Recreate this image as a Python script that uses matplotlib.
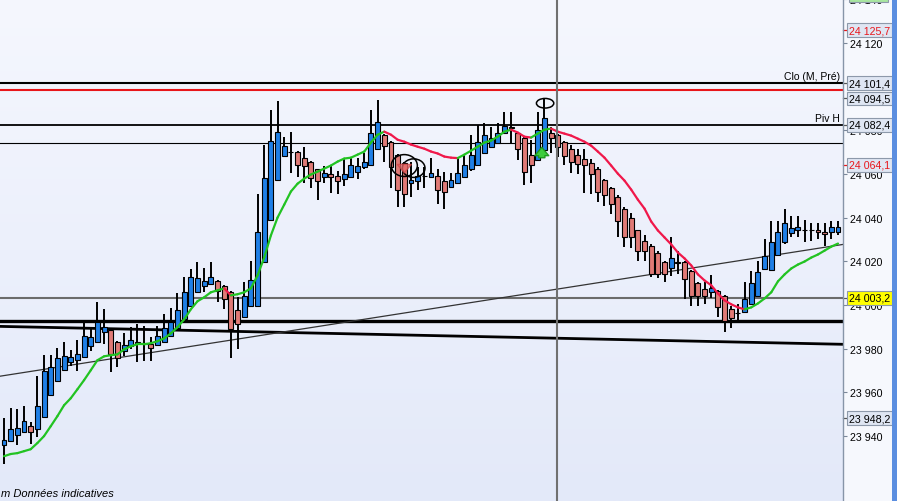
import numpy as np
import matplotlib
matplotlib.use('Agg')
import matplotlib.pyplot as plt
from matplotlib.collections import LineCollection
from matplotlib.patches import Ellipse, Rectangle

plt.rcParams['font.family'] = ['Liberation Sans', 'DejaVu Sans']

# --- candle data ---
opens = [
    23935.9, 23937.7, 23940.4, 23941.8, 23944.5, 23943.2, 23948.7, 23958.7, 23965.1, 23970.1,
    23973.8, 23974.7, 23976.1, 23981.1, 23982.9, 23987.5, 23988.4, 23982.9, 23978.8, 23981.1,
    23982.7, 23982.5, 23982.0, 23981.5, 23982.9, 23985.7, 23989.3, 23993.4, 23999.4, 24005.8,
    24008.5, 24009.4, 24010.8, 24008.5, 24005.8, 23997.5, 23994.3, 23999.4, 23999.4, 24019.5,
    24038.7, 24057.4, 24068.3, 24069.9, 24070.2, 24067.4, 24065.6, 24062.0, 24058.7, 24059.7,
    24059.2, 24057.8, 24058.7, 24061.0, 24062.9, 24064.2, 24071.5, 24077.9, 24074.7, 24068.8,
    24065.1, 24056.0, 24056.5, 24058.8, 24058.7, 24059.2, 24056.5, 24054.2, 24056.0, 24058.7,
    24062.0, 24064.2, 24069.7, 24072.4, 24074.3, 24078.9, 24081.6, 24078.9, 24076.6, 24068.8,
    24066.5, 24071.1, 24078.9, 24077.9, 24074.7, 24071.5, 24068.8, 24067.0, 24065.1, 24062.4,
    24057.4, 24053.7, 24049.6, 24044.1, 24040.0, 24034.1, 24029.1, 24027.2, 24024.0, 24019.5,
    24016.7, 24019.0, 24019.5, 24015.4, 24009.9, 24007.1, 24005.8, 24006.2, 24003.9, 23998.0,
    23996.2, 23996.6, 24000.3, 24003.9, 24016.3, 24015.8, 24022.7, 24028.6, 24032.7, 24034.1,
    24034.1, 24034.2, 24034.1, 24033.6, 24033.2, 24033.6]
closes = [
    23938.1, 23943.2, 23943.6, 23946.8, 23941.8, 23953.7, 23969.7, 23971.5, 23975.6, 23976.5,
    23976.1, 23977.4, 23985.7, 23985.2, 23992.0, 23989.8, 23977.4, 23975.6, 23981.5, 23983.8,
    23982.9, 23982.3, 23980.2, 23985.7, 23989.3, 23992.0, 23997.5, 24005.8, 24012.6, 24012.2,
    24010.8, 24012.6, 24006.2, 24002.6, 23988.9, 23991.1, 24003.9, 24011.2, 24033.2, 24058.3,
    24075.2, 24079.3, 24072.9, 24070.2, 24064.2, 24063.8, 24058.3, 24056.5, 24060.6, 24058.7,
    24056.5, 24059.7, 24064.2, 24063.8, 24065.6, 24078.9, 24083.9, 24072.9, 24062.9, 24052.8,
    24051.0, 24057.4, 24059.2, 24058.9, 24060.6, 24052.4, 24051.9, 24057.4, 24060.6, 24064.2,
    24068.8, 24074.7, 24077.9, 24076.6, 24078.9, 24082.0, 24081.1, 24071.5, 24061.0, 24064.2,
    24080.2, 24085.7, 24076.6, 24072.4, 24068.3, 24065.6, 24064.7, 24064.2, 24059.7, 24051.9,
    24050.1, 24046.4, 24038.2, 24030.9, 24031.3, 24024.5, 24024.5, 24014.0, 24014.0, 24014.0,
    24021.3, 24019.5, 24011.7, 24003.9, 24003.9, 24003.9, 24007.6, 23998.9, 23992.5, 23993.9,
    23996.4, 24002.6, 24009.9, 24014.9, 24022.2, 24028.6, 24033.6, 24037.3, 24035.0, 24035.5,
    24034.2, 24034.1, 24033.4, 24032.5, 24035.5, 24035.5]
highs = [
    23948.2, 23952.8, 23952.3, 23953.7, 23946.4, 23967.4, 23977.0, 23977.0, 23980.2, 23982.9,
    23979.3, 23983.8, 23991.6, 23988.9, 24001.2, 23998.0, 23988.9, 23983.4, 23987.0, 23989.8,
    23991.1, 23990.2, 23985.2, 23990.2, 23995.7, 23998.5, 24005.3, 24012.6, 24016.3, 24019.5,
    24016.7, 24019.5, 24011.2, 24009.0, 24006.2, 24003.5, 24010.3, 24019.9, 24051.0, 24073.4,
    24089.4, 24093.5, 24077.0, 24079.3, 24070.6, 24072.4, 24066.1, 24062.4, 24063.8, 24063.8,
    24061.5, 24067.4, 24067.4, 24067.4, 24069.7, 24089.4, 24093.9, 24078.4, 24075.2, 24069.3,
    24065.6, 24065.6, 24063.3, 24063.3, 24067.4, 24062.0, 24061.0, 24060.6, 24067.4, 24068.8,
    24077.9, 24082.5, 24083.4, 24081.6, 24083.4, 24088.4, 24088.4, 24079.3, 24077.0, 24075.6,
    24088.4, 24094.8, 24081.6, 24078.4, 24075.2, 24073.4, 24071.5, 24071.5, 24067.0, 24062.9,
    24057.8, 24054.2, 24050.1, 24044.6, 24042.3, 24034.5, 24031.8, 24027.7, 24024.5, 24019.9,
    24031.3, 24024.9, 24019.9, 24015.8, 24010.3, 24010.3, 24013.5, 24006.7, 24004.4, 23999.4,
    24000.3, 24010.3, 24015.4, 24019.9, 24030.0, 24038.2, 24038.2, 24043.7, 24040.9, 24040.5,
    24039.1, 24037.7, 24037.3, 24037.7, 24038.2, 24038.2]
lows = [
    23927.2, 23937.2, 23935.9, 23941.3, 23936.3, 23939.5, 23948.2, 23958.3, 23964.7, 23969.7,
    23972.0, 23969.7, 23975.6, 23978.8, 23982.5, 23982.0, 23969.2, 23971.5, 23976.5, 23979.7,
    23973.8, 23974.2, 23974.2, 23981.1, 23982.5, 23985.2, 23988.9, 23993.0, 23998.9, 24005.3,
    24005.8, 24009.0, 24001.2, 23998.0, 23975.6, 23979.7, 23993.9, 23998.9, 23998.9, 24019.0,
    24038.2, 24056.9, 24067.9, 24060.6, 24058.7, 24056.0, 24053.7, 24047.8, 24056.0, 24051.4,
    24051.0, 24054.6, 24058.3, 24057.8, 24062.0, 24063.8, 24071.1, 24065.6, 24053.7, 24045.0,
    24045.0, 24049.6, 24052.8, 24053.7, 24058.3, 24046.0, 24043.7, 24053.7, 24055.5, 24058.3,
    24061.5, 24063.8, 24069.3, 24072.0, 24073.8, 24078.4, 24074.3, 24066.5, 24055.1, 24056.0,
    24066.1, 24070.6, 24069.7, 24067.9, 24064.2, 24060.6, 24059.7, 24051.4, 24051.0, 24047.3,
    24045.5, 24041.4, 24031.3, 24026.3, 24025.9, 24019.9, 24019.9, 24012.6, 24012.2, 24010.3,
    24013.1, 24014.0, 24002.6, 23999.4, 23999.4, 24000.3, 24003.0, 23994.3, 23987.5, 23989.3,
    23991.6, 23996.2, 23999.8, 24003.5, 24015.8, 24015.4, 24022.2, 24028.1, 24030.9, 24030.9,
    24028.6, 24029.1, 24030.4, 24027.2, 24030.4, 24031.8]

# moving average as drawn on the chart
ma_values = [
    23930.8, 23931.8, 23932.2, 23933.1, 23934.0, 23936.8, 23940.0, 23944.5, 23949.1, 23954.1,
    23957.3, 23961.4, 23965.6, 23970.1, 23974.7, 23976.5, 23977.0, 23977.4, 23979.7, 23981.1,
    23982.0, 23982.0, 23982.5, 23983.4, 23984.7, 23987.0, 23989.8, 23993.4, 23998.0, 24001.7,
    24003.5, 24005.8, 24006.7, 24007.6, 24004.4, 24004.9, 24005.8, 24007.6, 24013.5, 24021.7,
    24031.8, 24040.0, 24045.9, 24051.9, 24055.5, 24057.8, 24059.7, 24061.0, 24062.4, 24063.8,
    24065.6, 24067.0, 24067.4, 24068.8, 24070.2, 24074.3, 24077.9, 24079.3, 24077.9, 24075.6,
    24074.7, 24073.4, 24072.4, 24071.5, 24070.2, 24069.3, 24067.9, 24067.4, 24067.2, 24068.8,
    24070.6, 24072.4, 24074.3, 24075.2, 24077.0, 24079.3, 24080.2, 24078.9, 24077.0, 24076.6,
    24078.4, 24080.2, 24080.7, 24079.3, 24078.4, 24077.5, 24076.1, 24074.7, 24072.9, 24070.2,
    24067.4, 24063.8, 24060.1, 24056.9, 24052.8, 24048.2, 24044.1, 24038.2, 24034.1, 24030.9,
    24027.7, 24024.0, 24021.3, 24018.1, 24014.0, 24011.2, 24009.0, 24005.3, 24002.1, 24000.3,
    23998.9, 23998.0, 23998.9, 24000.7, 24003.0, 24005.8, 24010.8, 24014.0, 24016.7, 24018.5,
    24019.9, 24021.7, 24023.1, 24024.9, 24026.7, 24028.1]

# horizontal levels
clo_m_pre = 24101.4
red_level = 24098.5
piv_h = 24082.4
thin_level = 24074.3
last_price = 24003.2
support_level = 23992.6

# trend lines (start value at left edge, end value at right edge)
falling_line = [23990.2, 23982.0]
rising_line = [23967.4, 24027.7]

cursor_index = 82.9

# right axis boxed labels: (value, text, text colour, box colour)
axis_labels = [
    (24125.7, '24 125,7', '#e8161b', '#dfe6f3'),
    (24101.4, '24 101,4', 'black', '#dfe6f3'),
    (24094.5, '24 094,5', 'black', '#dfe6f3'),
    (24082.4, '24 082,4', 'black', '#dfe6f3'),
    (24064.1, '24 064,1', '#e8161b', '#dfe6f3'),
    (24003.2, '24 003,2', 'black', '#ffff00'),
    (23948.2, '23 948,2', 'black', '#dfe6f3'),
]
# 24 100 is hidden behind the boxed labels on the original
tick_values = [23940, 23960, 23980, 24000, 24020, 24040, 24060, 24080, 24120, 24140]

W, H = 897, 502
AX_RIGHT = 843


def draw_background(ax):
    grad = np.linspace(0, 1, 256).reshape(-1, 1)
    top = np.array([0xf5, 0xf7, 0xfe]) / 255
    bot = np.array([0xe3, 0xe9, 0xf9]) / 255
    img = top[None, None, :] * (1 - grad[:, :, None]) + bot[None, None, :] * grad[:, :, None]
    ax.imshow(img, extent=[0, 1, 0, 1], transform=ax.transAxes, aspect='auto', zorder=0)


def draw_candles(ax):
    o = np.array(opens)
    c = np.array(closes)
    x = np.arange(len(o))
    ax.vlines(x, lows, highs, color='black', lw=1.4, zorder=3)
    cols = np.where(c >= o, '#1f7fe6', '#e07a76')
    ax.bar(x, np.abs(c - o), bottom=np.minimum(o, c), width=0.74, color=cols,
           edgecolor='black', linewidth=0.8, zorder=4)


def draw_ma(ax):
    y = np.array(ma_values)
    x = np.arange(len(y))
    pts = np.column_stack([x, y])
    segs = np.stack([pts[:-1], pts[1:]], axis=1)
    cols = ['#22c322' if d >= 0 else '#f0184a' for d in np.diff(y)]
    lc = LineCollection(segs, colors=cols, linewidths=1.6, capstyle='round', zorder=5)
    ax.add_collection(lc)


def draw_levels(ax, x0, x1):
    ax.axhline(clo_m_pre, color='black', lw=1.5, zorder=2)
    ax.axhline(red_level, color='#e8161b', lw=1.5, zorder=2)
    ax.axhline(piv_h, color='black', lw=1.3, zorder=2)
    ax.axhline(thin_level, color='black', lw=0.8, zorder=2)
    ax.axhline(last_price, color='#6b6b6b', lw=1.5, zorder=2)
    ax.axhline(support_level, color='black', lw=2.4, zorder=2)
    ax.plot([x0, x1], falling_line, color='black', lw=2.0, zorder=2)
    ax.plot([x0, x1], rising_line, color='#333333', lw=0.9, zorder=2)
    ax.axvline(cursor_index, color='#707070', lw=1.5, zorder=6)

    ax.annotate('Clo (M, Pré)', xy=(1, clo_m_pre), xycoords=ax.get_yaxis_transform(),
                xytext=(-3, 2), textcoords='offset pixels', ha='right', va='bottom', fontsize=7.5)
    ax.annotate('Piv H', xy=(1, piv_h), xycoords=ax.get_yaxis_transform(),
                xytext=(-3, 2), textcoords='offset pixels', ha='right', va='bottom', fontsize=7.5)


def draw_marks(ax):
    # hand drawn circles
    ax.add_patch(Ellipse((60.0, 24063.8), 3.9, 10.0, fill=False, ec='black', lw=1.1, zorder=7))
    ax.add_patch(Ellipse((61.4, 24062.6), 3.4, 8.5, fill=False, ec='black', lw=1.1, zorder=7))
    ax.add_patch(Ellipse((81.1, 24092.3), 2.6, 4.4, fill=False, ec='black', lw=1.1, zorder=7))
    # signal arrows
    ax.annotate('', xy=(60.0, 24059.2), xytext=(60.0, 24065.6),
                arrowprops=dict(arrowstyle='simple,head_length=0.6,head_width=1.0,tail_width=0.45',
                                fc='#e86a6a', ec='#d04848', alpha=0.75, mutation_scale=10), zorder=7)
    ax.annotate('', xy=(80.6, 24073.4), xytext=(80.6, 24066.1),
                arrowprops=dict(arrowstyle='simple,head_length=0.6,head_width=1.0,tail_width=0.45',
                                fc='#3dcc3d', ec='#1e9a1e', mutation_scale=10), zorder=7)


def draw_axis(fig, ax):
    ax.yaxis.tick_right()
    ax.set_yticks(tick_values)
    ax.set_yticklabels([f'{v:,}'.replace(',', ' ') for v in tick_values])
    ax.tick_params(axis='y', direction='out', length=3, width=0.8, color='#7a8799',
                   pad=2, labelsize=7.7, labelcolor='black')
    ax.set_xticks([])
    for side in ['left', 'top', 'bottom']:
        ax.spines[side].set_visible(False)
    ax.spines['right'].set_color('#8795a8')
    ax.spines['right'].set_linewidth(1.0)

    tr = ax.get_yaxis_transform()
    for val, txt, tcol, fcol in axis_labels:
        ax.annotate(txt, xy=(1, val), xycoords=tr, xytext=(6, 0), textcoords='offset pixels',
                    ha='left', va='center', fontsize=7.7, color=tcol, annotation_clip=False,
                    bbox=dict(boxstyle='square,pad=0.18', fc=fcol, ec='#8d99aa', lw=0.8))
        mark = '#e8161b' if tcol != 'black' else '#555555'
        ax.plot([1.0, 1.006], [val, val], transform=tr, color=mark, lw=0.9, clip_on=False)

    # strip on the far right and clipped label box at the top
    fig.patches.append(Rectangle((892 / W, 0), 5 / W, 1, transform=fig.transFigure,
                                 fc='#5b8ee0', ec='none'))
    fig.patches.append(Rectangle((849 / W, 1 - 3 / H), 39 / W, 4 / H, transform=fig.transFigure,
                                 fc='#a8e6a0', ec='#8d99aa', lw=0.8))


def main():
    fig = plt.figure(figsize=(W / 100, H / 100), dpi=100, facecolor='#f6f8fd')
    ax = fig.add_axes([0, 0, AX_RIGHT / W, 1])

    x0 = -4 / 6.672
    x1 = (AX_RIGHT - 4) / 6.672
    ax.set_xlim(x0, x1)
    ax.set_ylim(23910.3, 24139.6)

    draw_background(ax)
    draw_levels(ax, x0, x1)
    draw_candles(ax)
    draw_ma(ax)
    draw_marks(ax)
    draw_axis(fig, ax)

    ax.text(0.001, 0.006, 'm Données indicatives', transform=ax.transAxes,
            fontsize=8, style='italic', ha='left', va='bottom', zorder=8)

    fig.savefig('out.png', dpi=100, facecolor=fig.get_facecolor())


if __name__ == '__main__':
    main()
